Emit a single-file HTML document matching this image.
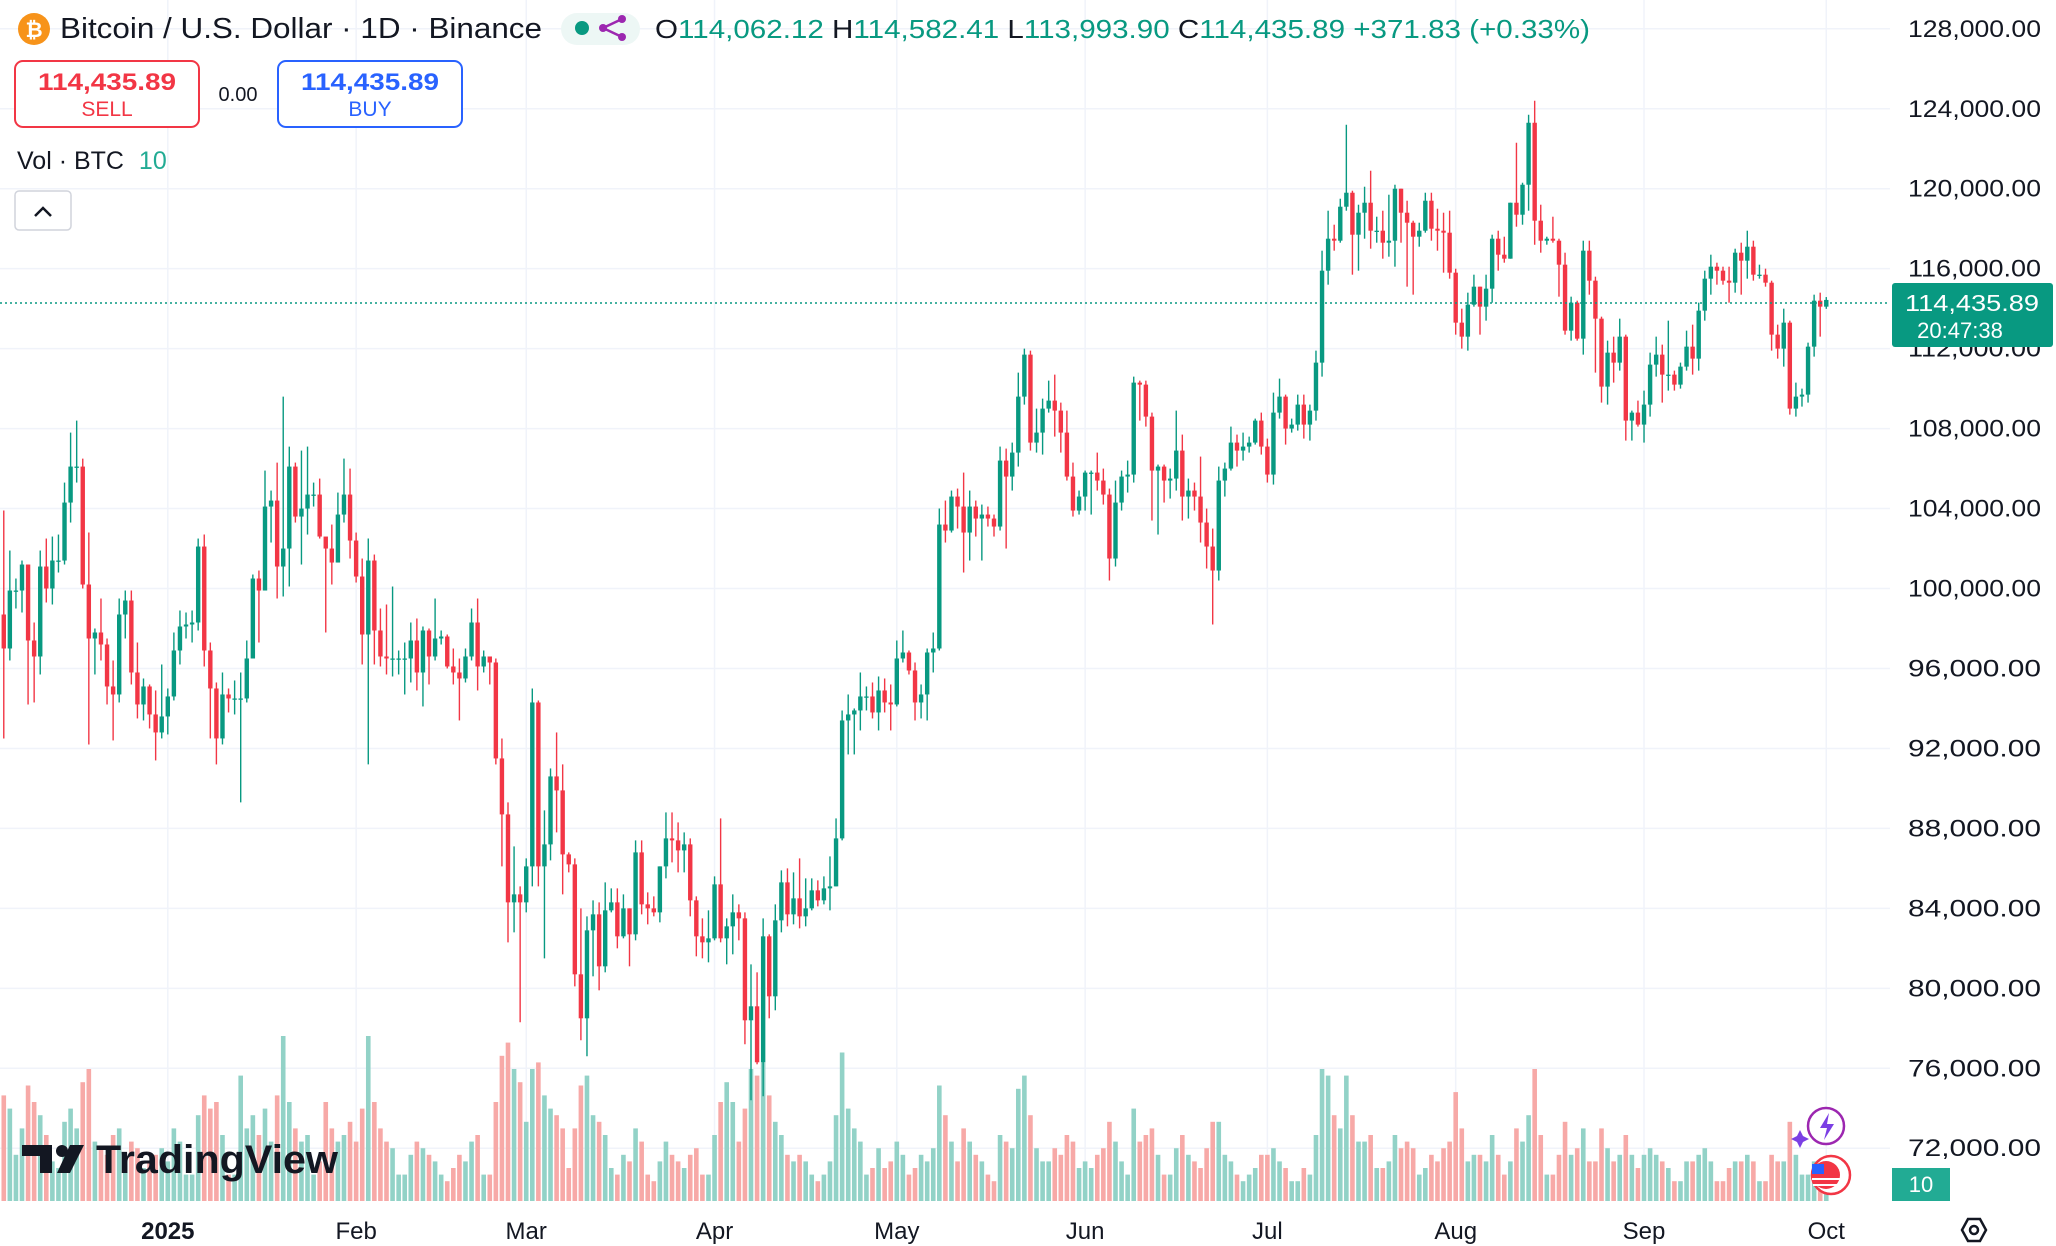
<!DOCTYPE html>
<html><head><meta charset="utf-8"><style>
html,body{margin:0;padding:0;background:#fff;}
svg{display:block;font-family:"Liberation Sans",sans-serif;}
</style></head><body>
<svg id="chart" width="2056" height="1246" viewBox="0 0 2056 1246" xmlns="http://www.w3.org/2000/svg">
<g id="grid"></g>
<g id="vols"></g>
<g id="candles"></g>
<g id="yaxis"></g>
<g id="xaxis"></g>
<line x1="0" x2="1890" y1="303" y2="303" stroke="#089981" stroke-width="1.5" stroke-dasharray="2,3"/>
<g>
<rect x="1892" y="283" width="161" height="64" rx="3" fill="#089981"/>
<text x="1972" y="311" fill="#fff" font-size="23" text-anchor="middle" textLength="134" lengthAdjust="spacingAndGlyphs">114,435.89</text>
<text x="1960" y="338" fill="#fff" font-size="22" text-anchor="middle">20:47:38</text>
</g>
<g>
<rect x="1892" y="1168" width="58" height="33" fill="#22ab94"/>
<text x="1921" y="1192" fill="#fff" font-size="22" text-anchor="middle">10</text>
</g>
<g>
<circle cx="34" cy="29" r="16" fill="#f7931a"/>
<text x="34" y="37" fill="#fff" font-size="21" font-weight="bold" text-anchor="middle">₿</text>
<text x="60" y="38" fill="#131722" font-size="29" textLength="482" lengthAdjust="spacingAndGlyphs">Bitcoin / U.S. Dollar · 1D · Binance</text>
</g>
<g>
<rect x="561" y="13" width="79" height="32" rx="16" fill="#edf7f5"/>
<circle cx="582" cy="28" r="7" fill="#089981"/>
<circle cx="603" cy="28" r="4" fill="#9c27b0"/><circle cx="622" cy="19" r="4" fill="#9c27b0"/><circle cx="622" cy="37" r="4" fill="#9c27b0"/>
<line x1="603" y1="28" x2="622" y2="19" stroke="#9c27b0" stroke-width="2.5"/><line x1="603" y1="28" x2="622" y2="37" stroke="#9c27b0" stroke-width="2.5"/>
</g>
<text x="655" y="38" font-size="26" textLength="935" lengthAdjust="spacingAndGlyphs"><tspan fill="#131722">O</tspan><tspan fill="#089981">114,062.12 </tspan><tspan fill="#131722">H</tspan><tspan fill="#089981">114,582.41 </tspan><tspan fill="#131722">L</tspan><tspan fill="#089981">113,993.90 </tspan><tspan fill="#131722">C</tspan><tspan fill="#089981">114,435.89 +371.83 (+0.33%)</tspan></text>
<g>
<rect x="15" y="61" width="184" height="66" rx="8" fill="#fff" stroke="#f23645" stroke-width="2"/>
<text x="107" y="90" fill="#f23645" font-size="24" font-weight="bold" text-anchor="middle" textLength="138" lengthAdjust="spacingAndGlyphs">114,435.89</text>
<text x="107" y="116" fill="#f23645" font-size="21" text-anchor="middle">SELL</text>
</g>
<text x="238" y="101" fill="#131722" font-size="20" text-anchor="middle">0.00</text>
<g>
<rect x="278" y="61" width="184" height="66" rx="8" fill="#fff" stroke="#2962ff" stroke-width="2"/>
<text x="370" y="90" fill="#2962ff" font-size="24" font-weight="bold" text-anchor="middle" textLength="138" lengthAdjust="spacingAndGlyphs">114,435.89</text>
<text x="370" y="116" fill="#2962ff" font-size="21" text-anchor="middle">BUY</text>
</g>
<text x="17" y="169" font-size="25"><tspan fill="#131722">Vol · BTC </tspan><tspan fill="#22ab94" dx="8">10</tspan></text>
<g>
<rect x="15" y="191" width="56" height="39" rx="4" fill="#fff" stroke="#d1d4dc" stroke-width="1.5"/>
<polyline points="35,216 43,208 51,216" fill="none" stroke="#131722" stroke-width="2.5"/>
</g>
<g>
<path d="M22 1145 h30 v28 h-12 v-17 h-18 z" fill="#131722"/>
<circle cx="62" cy="1151" r="6" fill="#131722"/>
<path d="M70 1145 h14 l-14 28 h-13 z" fill="#131722"/>
<text x="96" y="1173" fill="#131722" font-size="40" font-weight="bold" textLength="242" lengthAdjust="spacingAndGlyphs">TradingView</text>
</g>
<g>
<circle cx="1826" cy="1126" r="18" fill="#fff" stroke="#9c27b0" stroke-width="2.5"/>
<path d="M1829 1113 l-9 15 h7 l-3 12 l10 -16 h-7 z" fill="#7b3fe4"/>
<path d="M1800 1130 l3 6 l6 3 l-6 3 l-3 6 l-3 -6 l-6 -3 l6 -3 z" fill="#7b3fe4"/>
</g>
<g>
<circle cx="1831" cy="1175" r="19" fill="#fff" stroke="#f23645" stroke-width="2.5"/>
<circle cx="1826" cy="1175" r="14" fill="#f23645"/>
<rect x="1812" y="1164" width="12" height="10" fill="#2962ff"/>
<line x1="1812" y1="1179" x2="1840" y2="1179" stroke="#fff" stroke-width="2"/>
<line x1="1813" y1="1185" x2="1839" y2="1185" stroke="#fff" stroke-width="2"/>
</g>
<g>
<polygon points="1968,1219 1980,1219 1986,1230 1980,1241 1968,1241 1962,1230" fill="none" stroke="#131722" stroke-width="2.5"/>
<circle cx="1974" cy="1230" r="4" fill="none" stroke="#131722" stroke-width="2.5"/>
</g>
</svg>
<script>
const closes=[98.7,97.0,99.9,99.9,101.2,97.4,96.6,101.1,100.0,101.4,101.4,104.3,106.1,106.1,100.2,97.5,97.8,97.2,95.1,94.7,98.7,99.4,95.8,94.2,95.1,93.7,92.8,93.6,
94.6,96.9,98.1,98.2,98.3,102.1,96.9,95.0,92.5,94.7,94.5,94.5,94.5,96.5,100.5,99.9,104.1,104.4,101.1,102.0,106.1,103.6,104.0,104.7,104.7,102.6,102.0,101.3,103.7,104.7,102.4,
100.6,97.7,101.4,97.9,96.6,96.5,96.5,96.5,96.5,97.4,95.8,97.9,96.6,97.5,97.6,96.1,95.8,95.5,96.6,98.3,96.1,96.6,96.3,91.5,88.7,84.3,84.7,84.3,
86.1,94.3,86.1,87.2,90.6,89.9,86.7,86.2,80.7,78.5,82.9,83.7,81.1,83.9,84.3,82.6,84.0,82.7,86.8,84.2,84.0,83.8,86.1,87.5,87.4,86.9,87.2,84.4,82.6,82.3,82.5,
85.2,82.5,83.1,83.8,83.5,78.4,79.1,76.3,82.6,79.6,83.4,85.3,83.7,84.5,83.6,84.0,84.9,84.4,85.0,85.1,87.5,93.4,93.7,93.9,94.6,94.6,93.8,94.9,94.3,94.2,
96.5,96.8,95.9,94.3,94.7,96.8,97.0,103.2,102.9,104.6,104.1,102.8,104.1,103.5,103.7,103.5,103.1,106.4,105.6,106.8,109.6,111.7,107.3,107.8,109.0,109.4,108.9,107.8,105.6,103.9,104.6,
105.8,105.8,105.4,104.7,101.5,104.3,105.6,105.7,110.3,110.2,108.6,105.9,106.1,105.4,105.5,106.9,104.6,104.9,104.6,103.3,102.1,100.9,105.4,106.0,107.3,106.9,107.1,107.3,108.4,107.1,
105.7,108.8,109.6,108.0,108.2,109.2,108.2,108.9,111.3,115.9,117.5,117.4,119.1,119.8,117.7,118.8,119.3,117.9,117.9,117.3,117.4,120.0,118.8,118.3,117.6,117.9,119.4,118.0,117.9,117.8,115.8,
113.3,112.6,114.2,115.1,114.1,115.0,117.5,116.7,116.5,119.3,118.7,120.2,123.3,118.4,117.4,117.5,117.4,116.2,112.9,114.3,112.5,116.9,115.4,113.5,110.1,111.8,111.3,112.6,108.4,108.8,108.2,
109.2,111.2,111.7,110.7,110.7,110.2,111.1,112.1,111.5,113.9,115.5,116.1,115.9,115.4,115.3,116.8,116.4,117.1,115.7,115.7,115.3,112.7,112.0,113.3,109.0,109.6,109.7,112.1,114.4,114.1,
114.436];
const highs=[99.0,103.9,101.9,100.5,101.4,101.2,98.3,101.9,102.5,102.6,102.7,105.3,107.8,108.4,106.5,102.8,98.0,99.5,97.5,96.4,99.5,99.9,99.9,97.3,95.5,95.2,94.9,96.2,
95.0,97.8,98.9,98.8,98.9,102.5,102.7,97.3,95.3,95.8,95.0,95.4,95.8,97.4,100.7,100.9,105.9,104.9,106.3,109.6,107.1,106.3,106.9,107.1,105.3,105.5,102.5,103.2,104.8,106.5,106.0,
102.8,101.5,102.5,101.7,99.0,99.2,100.1,96.9,97.3,98.3,98.5,98.1,98.0,99.5,97.9,97.7,97.0,96.5,97.0,99.0,99.5,96.9,96.6,96.5,92.5,89.3,87.1,85.1,
86.5,95.0,94.4,88.9,91.0,92.8,91.2,86.8,86.5,84.0,83.6,84.4,84.3,85.3,85.0,85.0,84.7,84.0,87.4,87.4,84.8,84.6,86.1,88.8,88.8,88.3,87.8,87.5,84.6,83.5,83.9,
85.6,88.5,83.5,84.7,84.2,83.8,81.2,80.8,83.5,82.7,84.2,85.9,86.0,85.8,86.5,85.5,85.5,85.4,85.6,86.6,88.5,93.9,94.7,94.0,95.8,95.1,95.3,95.6,95.5,95.2,
97.4,97.9,96.9,96.3,95.2,97.0,97.8,104.0,104.4,104.9,105.0,105.8,104.9,104.4,104.2,104.1,103.7,107.1,107.0,107.3,110.8,112.0,111.9,109.0,109.5,110.4,110.7,109.3,108.9,106.3,104.9,
105.9,105.9,106.8,106.0,105.0,105.4,105.9,106.4,110.6,110.4,110.4,108.8,106.2,106.2,106.0,108.9,107.7,105.5,105.3,106.6,104.0,103.0,106.1,106.3,108.1,107.7,107.8,107.6,108.5,108.8,
107.5,109.8,110.5,109.7,108.5,109.7,109.7,109.2,111.9,116.9,118.9,118.2,119.5,123.2,119.9,119.2,120.1,120.9,118.6,118.9,119.7,120.2,120.0,119.4,118.4,118.3,119.8,119.8,119.0,118.8,118.9,
116.0,114.0,114.8,115.7,115.1,115.7,117.7,117.9,117.6,119.3,122.3,120.3,123.7,124.4,119.2,117.6,118.6,117.5,116.8,114.6,114.4,117.4,117.4,115.6,113.6,112.4,112.6,113.5,112.7,108.9,109.4,
109.9,111.8,112.6,112.2,113.4,110.9,111.3,112.9,113.2,114.3,115.9,116.7,116.3,116.1,116.1,117.0,117.3,117.9,117.4,116.2,116.0,115.4,113.2,114.0,113.4,110.3,110.0,112.3,114.7,114.8,
114.58];
const lows=[94.7,92.5,96.4,99.0,98.8,94.2,94.3,95.7,99.3,99.2,100.8,101.2,103.3,105.3,100.0,92.2,95.7,96.4,94.2,92.4,94.3,97.5,95.2,93.5,93.4,93.0,91.4,92.5,
92.7,94.4,96.2,97.5,97.3,97.9,96.1,92.5,91.2,92.2,93.8,93.7,89.3,94.3,96.5,97.3,99.9,102.3,99.5,99.6,100.1,103.3,101.2,102.7,104.1,102.5,97.8,100.2,101.3,103.3,101.5,
100.3,96.2,91.2,96.2,96.1,95.7,95.6,95.7,94.7,95.3,94.9,94.1,95.2,96.4,97.2,96.0,95.2,93.4,95.3,96.4,94.9,95.8,95.2,91.2,86.1,82.3,82.8,78.3,
83.8,85.1,85.1,81.5,86.4,87.8,84.7,85.8,80.1,77.4,76.6,80.6,79.9,80.8,83.8,82.0,82.5,81.1,82.4,83.7,83.2,83.6,83.3,85.5,86.3,85.8,85.8,83.6,81.6,81.5,81.3,
82.4,82.3,81.2,81.7,82.4,77.2,74.4,76.2,74.6,78.5,78.9,82.8,83.1,83.2,83.0,83.1,83.9,84.1,84.2,83.9,85.1,87.4,91.7,91.7,92.9,93.9,93.5,92.9,93.8,92.9,
94.1,96.3,95.7,93.4,93.5,93.4,95.8,96.9,102.3,102.8,103.0,100.8,101.4,102.6,101.4,103.1,102.6,102.9,102.0,104.9,106.1,109.2,106.9,106.8,106.7,108.8,107.6,106.8,105.4,103.6,103.7,
103.9,103.7,104.9,104.2,100.4,101.1,103.9,104.8,105.3,108.4,108.1,103.4,102.7,104.3,104.5,104.9,103.4,103.5,103.9,102.3,101.0,98.2,100.4,104.6,105.9,106.1,106.4,106.8,107.2,106.7,
105.3,105.2,108.5,107.2,107.8,107.9,107.5,107.4,108.4,110.6,115.2,116.9,117.3,118.9,115.7,115.9,117.5,117.0,117.3,116.5,116.6,116.1,117.3,115.1,114.7,117.1,117.8,117.4,116.9,115.8,115.5,
112.7,112.0,111.9,114.1,112.7,113.4,114.3,115.9,116.3,116.5,118.1,118.2,118.9,117.2,116.8,117.2,117.3,114.6,112.7,112.4,112.4,111.7,114.7,110.8,109.3,109.2,110.3,110.9,107.4,107.4,108.1,
107.3,108.6,110.6,109.3,109.9,109.9,110.0,110.9,110.7,110.9,113.4,114.7,115.2,115.2,114.3,114.8,114.7,115.5,115.4,115.5,115.1,111.9,111.5,111.1,108.7,108.6,109.1,109.3,111.6,112.6,
113.99];
const volumes=[58,32,28,14,22,35,30,26,20,12,10,24,28,22,36,40,18,16,14,20,22,12,18,16,10,12,14,16,
12,22,18,8,8,26,32,28,30,20,8,8,38,22,26,20,28,18,32,50,30,22,18,20,8,12,30,22,18,20,24,
18,28,50,30,22,18,16,8,8,14,18,16,14,12,8,6,10,14,12,18,20,8,8,30,44,48,40,36,
24,40,42,32,28,26,22,10,22,35,38,26,24,20,10,8,14,12,22,18,8,6,12,18,14,12,10,14,16,8,8,
20,30,36,30,18,28,40,38,42,32,24,20,14,12,14,12,8,6,8,12,26,45,28,22,18,8,10,16,10,12,
18,14,8,10,14,12,16,35,26,18,12,22,18,14,12,8,6,20,18,16,34,38,26,16,12,12,16,14,20,18,10,
12,10,14,16,24,18,12,8,28,18,20,22,14,8,8,16,20,14,12,10,16,24,24,14,12,8,6,8,10,14,
14,16,12,10,6,6,10,8,20,40,38,26,22,38,26,18,18,20,10,10,12,20,16,18,16,8,10,14,12,16,18,
33,22,12,14,14,12,20,14,8,12,22,18,26,40,20,8,8,14,24,14,16,22,12,12,22,16,12,14,20,14,10,
14,16,14,12,10,6,6,12,12,14,16,12,6,6,10,12,12,14,12,6,6,14,12,12,24,14,8,8,12,10,
4];
const priceTicks=[72,76,80,84,88,92,96,100,104,108,112,116,120,124,128];
const monthLabels=["2025","Feb","Mar","Apr","May","Jun","Jul","Aug","Sep","Oct"];
const monthStartIdx=[28,59,87,118,148,179,209,240,271,301];
const firstOpen=96.0;

const NS="http://www.w3.org/2000/svg";
function yP(p){return 28.8+(128-p)*19.99;}
function xD(i){return 167.8+(i-28)*6.075;}
const VOL_BASE=1201, VOL_UNIT=3.3;
function yV(v){return VOL_BASE-v*VOL_UNIT;}
function mk(tag,attrs,parent){const e=document.createElementNS(NS,tag);for(const k in attrs)e.setAttribute(k,attrs[k]);parent.appendChild(e);return e;}

const grid=document.getElementById('grid'),yaxis=document.getElementById('yaxis'),xaxis=document.getElementById('xaxis');
priceTicks.forEach(t=>{
  const l=mk('line',{x1:0,x2:1890,y1:yP(t),y2:yP(t),stroke:'#f0f3fa','stroke-width':1.5},grid);
  
  
  const tx=mk('text',{x:2041,y:yP(t)+8,'font-size':24,fill:'#131722','text-anchor':'end',textLength:133,lengthAdjust:'spacingAndGlyphs'},yaxis);
  tx.textContent=t.toLocaleString('en-US')+',000.00';
  
  
});
monthStartIdx.forEach((idx,k)=>{
  const l=mk('line',{x1:xD(idx),x2:xD(idx),y1:0,y2:1201,stroke:'#f0f3fa','stroke-width':1.5},grid);
  
  
  const tx=mk('text',{x:xD(idx),y:1239,'font-size':24,fill:'#131722','text-anchor':'middle','font-weight':k===0?'bold':'normal'},xaxis);
  tx.textContent=monthLabels[k];
  
  
});
const cg=document.getElementById('candles'),vg=document.getElementById('vols');
closes.forEach((c,i)=>{
  const o=i===0?firstOpen:closes[i-1];
  const up=c>=o;const col=up?'#089981':'#f23645';
  const x=xD(i);
  const w=mk('line',{x1:x,x2:x,y1:yP(highs[i]),y2:yP(lows[i]),stroke:col,'stroke-width':1.4},cg);
  
  
  const top=yP(Math.max(o,c)),bot=yP(Math.min(o,c));
  const b=mk('rect',{x:x-2.2,y:top,width:4.4,height:Math.max(1.3,bot-top),fill:col},cg);
  
  
  const v=mk('rect',{x:x-2.3,y:yV(volumes[i]),width:4.6,height:volumes[i]*VOL_UNIT,fill:up?'#92d2c7':'#f7a9a7'},vg);
  
  
});
</script>
</body></html>
